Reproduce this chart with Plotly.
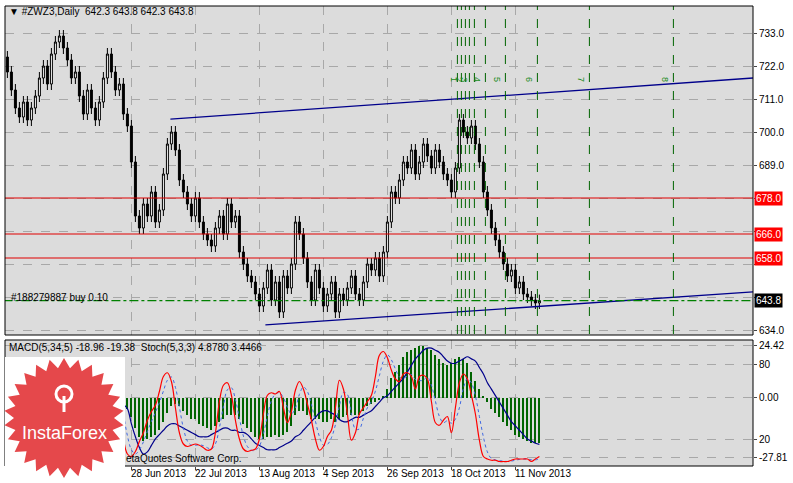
import numpy as np
import pandas as pd
import plotly.graph_objects as go

closes = [720,714, 708,705,710,704,708, 712,718,722,716,726,730,732,728, 724,718,720,
          712,706,714,708,704,710, 718,726,720, 714,716,706,702, 690,672,668,
          676,672,680,670,674, 686,696,700,694, 684,680,676,672,678,670,
          666,664,662,668, 672,666,676,670,672, 660,656,652,650,646,
          642,648,654,644,650,640,652,648, 656,670,666, 658,650,644,654,648,
          642,646,650,640,646,644,648,652,646,644, 650,656,654,658,652,660,
          670,680,678,684, 690,688,694,686,690,696,692,688,694,690,
          686,684,680,688, 704,700,698,702, 696,690,680,674,668,
          664,660,656,652,654, 648,650,646,645,644,643,643.8]
macd_hist = [5,3,0,-2,-3,-2,0,3,6,8,8,10,12,12,11,9,7,6,4,1,-1,-2,-1,1,3,3,2,1,-1,-3,-5,
             -9,-14,-18,-20,-19,-18,-17,-15,-11,-7,-4,-3,-4,-6,-8,-10,-10,-12,
             -13,-14,-15,-13,-11,-10,-8,-8,-8,-10,-12,-14,-16,-18,
             -19,-19,-18,-18,-17,-18,-17,-16,-13,-8,-6,
             -6,-8,-10,-10,-10,-11,-11,-10,-11,-10,-9,-8,-8,-8,-8,
             -6,-4,-3,-2,-1,1,4,9,12,15,
             19,21,22,23,24,24,23,22,20,18,16,15,16,18,
             19,18,16,12,8,4,1,-2,-5,
             -7,-9,-11,-13,-15,-17,-18,-19,-20,-21,-21,-21]
macd_signal = [2,2,1,1,0,-1,-1,0,1,3,4,6,7,8,9,9,9,8,7,6,4,3,2,1,1,1,1,0,-1,-3,-5,
               -12,-18,-23,-26,-25,-22,-19,-17,-15,-13,-12,-12,-13,-14,-15,-16,-17,-18,
               -18,-18,-17,-16,-15,-14,-14,-15,-15,-16,-16,-17,-19,-21,
               -22,-23,-24,-24,-24,-23,-22,-21,-20,-18,-17,
               -15,-13,-11,-9,-7,-6,-6,-7,-8,-10,-11,-11,-10,-9,-9,
               -8,-7,-6,-4,-2,0,1,3,5,7,
               9,12,15,18,20,22,23,23,22,21,19,17,16,16,
               17,18,19,18,17,14,11,7,4,
               1,-2,-5,-8,-11,-13,-15,-17,-19,-20,-21,-21.5]
stoch_main = [40,30,25,35,50,60,55,45,40,55,70,80,85,75,60,50,40,30,35,50,60,45,30,25,40,65,75,60,40,20,8,
              6,10,18,25,35,42,47,58,70,73,66,45,25,16,14,15,16,15,
              13,11,12,25,50,63,65,55,35,20,12,10,11,12,
              20,40,55,57,56,58,45,33,42,59,66,
              60,48,35,20,11,14,22,27,45,67,60,40,19,25,40,
              45,50,55,70,87,90,85,75,68,66,
              72,73,70,60,70,71,68,50,33,31,35,38,25,45,
              65,72,68,55,40,19,6,4,3,
              3,2,2,2,3,4,4,4,4,2,4,6]
date_ticks = [31,47,63,79,95,111,127]
date_labels = ["28 Jun 2013","22 Jul 2013","13 Aug 2013","4 Sep 2013","26 Sep 2013","18 Oct 2013","11 Nov 2013"]
price_ticks = [733,722,711,700,689,678,667,656,645,634]
price_ticktext = ["733.0","722.0","711.0","700.0","689.0","","","","","634.0"]
red_levels = [678.0,666.0,658.0]
order_level = 643.8
fib_x = [112.5,113.5,114.5,115.5,116.75,119.5,124.5,132.5,145.5,166.5]
fib_lbl = [(111.8,"1"),(113,"2"),(114.2,"3"),(117.5,"4"),(122.5,"5"),(130.5,"6"),(143.5,"7"),(164.5,"8")]
upper_ch = ([40.75,186.4],[704.3,718.0])
lower_ch = ([64.5,186.4],[635.7,646.7])

n = len(closes)
idx = list(range(n))
opens = [725] + closes[:-1]
highs = [max(o, c) + 2 for o, c in zip(opens, closes)]
lows = [min(o, c) - 2 for o, c in zip(opens, closes)]
stoch_sig = pd.Series(stoch_main).rolling(3, min_periods=1).mean().tolist()

W, H = 793, 483
L, R, T, B = 5, 40, 6, 17
pw, ph = W - L - R, H - T - B
def px(xp): return (xp - L) / pw
def py(yp): return (H - B - yp) / ph

FONT = "Liberation Sans"
fig = go.Figure()
fig.add_trace(go.Candlestick(x=idx, open=opens, high=highs, low=lows, close=closes,
    increasing=dict(fillcolor="white", line=dict(color="black", width=1)),
    decreasing=dict(fillcolor="black", line=dict(color="black", width=1)),
    whiskerwidth=0, xaxis="x", yaxis="y", showlegend=False, hoverinfo="skip"))
for xs, ys in (upper_ch, lower_ch):
    fig.add_trace(go.Scatter(x=xs, y=ys, mode="lines", line=dict(color="#00008B", width=1.3),
                             xaxis="x", yaxis="y", showlegend=False))
fig.add_trace(go.Bar(x=idx, y=macd_hist, width=0.22, marker=dict(color="#006400", line_width=0),
                     xaxis="x2", yaxis="y2", showlegend=False))
fig.add_trace(go.Scatter(x=idx, y=macd_signal, mode="lines", line=dict(color="#00008B", width=1.2, shape="spline"),
                         xaxis="x2", yaxis="y2", showlegend=False))
fig.add_trace(go.Scatter(x=idx, y=stoch_sig, mode="lines", line=dict(color="#4169E1", width=1, dash="dot", shape="spline"),
                         xaxis="x2", yaxis="y3", showlegend=False))
fig.add_trace(go.Scatter(x=idx, y=stoch_main, mode="lines", line=dict(color="red", width=1.2, shape="spline"),
                         xaxis="x2", yaxis="y3", showlegend=False))

shapes = []
for lv in red_levels:
    shapes.append(dict(type="line", xref="x", yref="y", x0=-1, x1=190, y0=lv, y1=lv, line=dict(color="#E00000", width=1)))
shapes.append(dict(type="line", xref="x", yref="y", x0=-1, x1=190, y0=order_level, y1=order_level,
                   line=dict(color="#008000", width=1.2, dash="dashdot")))
for fx in fib_x:
    shapes.append(dict(type="line", xref="x", yref="paper", x0=fx, x1=fx, y0=py(334), y1=1,
                       line=dict(color="#006400", width=1, dash="dash")))
shapes.append(dict(type="rect", xref="paper", yref="paper", x0=0, x1=1, y0=py(335), y1=1, line=dict(color="black", width=1)))
shapes.append(dict(type="rect", xref="paper", yref="paper", x0=0, x1=1, y0=0, y1=py(340), line=dict(color="black", width=1)))
shapes.append(dict(type="rect", xref="paper", yref="paper", x0=px(5), x1=px(125), y0=py(478), y1=py(357),
                   fillcolor="white", line_width=0, layer="above"))
cx, cy, Ro, Ri, k = 64, 418, 60, 50, 26
pts = []
for j in range(2 * k):
    a = np.pi * j / k - np.pi / 2
    r = Ro if j % 2 == 0 else Ri
    pts.append((px(cx + r * np.cos(a)), py(cy + r * np.sin(a))))
path = "M " + " L ".join(f"{a:.5f},{b:.5f}" for a, b in pts) + " Z"
shapes.append(dict(type="path", xref="paper", yref="paper", path=path, fillcolor="#E5484B", line_width=0, layer="above"))
shapes.append(dict(type="circle", xref="paper", yref="paper", x0=px(56), x1=px(72), y0=py(402), y1=py(386),
                   line=dict(color="white", width=3), layer="above"))
shapes.append(dict(type="line", xref="paper", yref="paper", x0=px(64), x1=px(64), y0=py(412), y1=py(396),
                   line=dict(color="white", width=3), layer="above"))

ann = []
def txt(xp, yp, t, size=9, color="black", anchor="left", **kw):
    ann.append(dict(x=px(xp), y=py(yp), xref="paper", yref="paper", text=t, showarrow=False,
                    xanchor=anchor, yanchor="middle", font=dict(size=size, color=color, family=FONT), **kw))
txt(7, 11, "▼ #ZWZ3,Daily  642.3 643.8 642.3 643.8", 10)
txt(9, 297, "#188279887 buy 0.10", 10)
txt(7, 347, "MACD(5,34,5) -18.96 -19.38  Stoch(5,3,3) 4.8780 3.4466", 10)
txt(124, 458, "etaQuotes Software Corp.", 10)
txt(64, 433, "InstaForex", 18, "white", "center")
for t, lbl in zip(date_ticks, date_labels):
    ann.append(dict(x=t, y=py(474), xref="x2", yref="paper", text=lbl, showarrow=False, xanchor="left",
                    yanchor="middle", xshift=-2, font=dict(size=10, color="black", family=FONT)))
for fx, lbl in fib_lbl:
    ann.append(dict(x=fx, y=py(75), xref="x", yref="paper", text=lbl, showarrow=False, textangle=90,
                    xanchor="center", font=dict(size=9, color="#228B22", family=FONT)))
for lv in red_levels:
    ann.append(dict(x=1, y=lv, xref="paper", yref="y", text=f"{lv:.1f}", showarrow=False, xanchor="left",
                    xshift=1, bgcolor="#FF0000", font=dict(size=10, color="white", family=FONT), borderpad=1))
ann.append(dict(x=1, y=order_level, xref="paper", yref="y", text=f"{order_level:.1f}", showarrow=False,
                xanchor="left", xshift=1, bgcolor="black", font=dict(size=10, color="white", family=FONT), borderpad=1))

xr = [-0.6, 186.4]
grid = dict(showgrid=True, gridcolor="#A8A8A8", griddash="dash", gridwidth=1, automargin=False)
fig.update_layout(
    width=W, height=H, margin=dict(l=L, r=R, t=T, b=B, autoexpand=False),
    paper_bgcolor="white", plot_bgcolor="#DCDCDC",
    font=dict(family=FONT, size=10, color="black"),
    shapes=shapes, annotations=ann, bargap=0,
    xaxis=dict(domain=[0, 1], range=xr, tickvals=date_ticks, showticklabels=False, rangeslider=dict(visible=False),
               anchor="y", zeroline=False, ticks="", **grid),
    yaxis=dict(domain=[py(335), 1], range=[634 - (335 - 330) / 3, 733 + (33 - 6) / 3], side="right", tickvals=price_ticks,
               ticktext=price_ticktext, ticks="outside", ticklen=3, zeroline=False,
               anchor="x", **grid),
    xaxis2=dict(domain=[0, 1], range=xr, tickvals=date_ticks, showticklabels=False, anchor="y2", zeroline=False,
                ticks="outside", ticklen=3, **grid),
    yaxis2=dict(domain=[0, py(340)], range=[-27.81 - 8 / 2.16, 24.42 + 5 / 2.16], side="right",
                tickvals=[24.42, 15.3, 0, -19.4, -27.81], ticktext=["24.42", "80", "0.00", "20", "-27.81"],
                ticks="outside", ticklen=3, zeroline=False, anchor="x2", **grid),
    yaxis3=dict(overlaying="y2", range=[-1.6, 99.2], visible=False, anchor="x2"),
)
fig.write_html("out.html", config={"displayModeBar": False},
               post_script="document.body.style.margin='0';document.body.style.overflow='hidden';")
